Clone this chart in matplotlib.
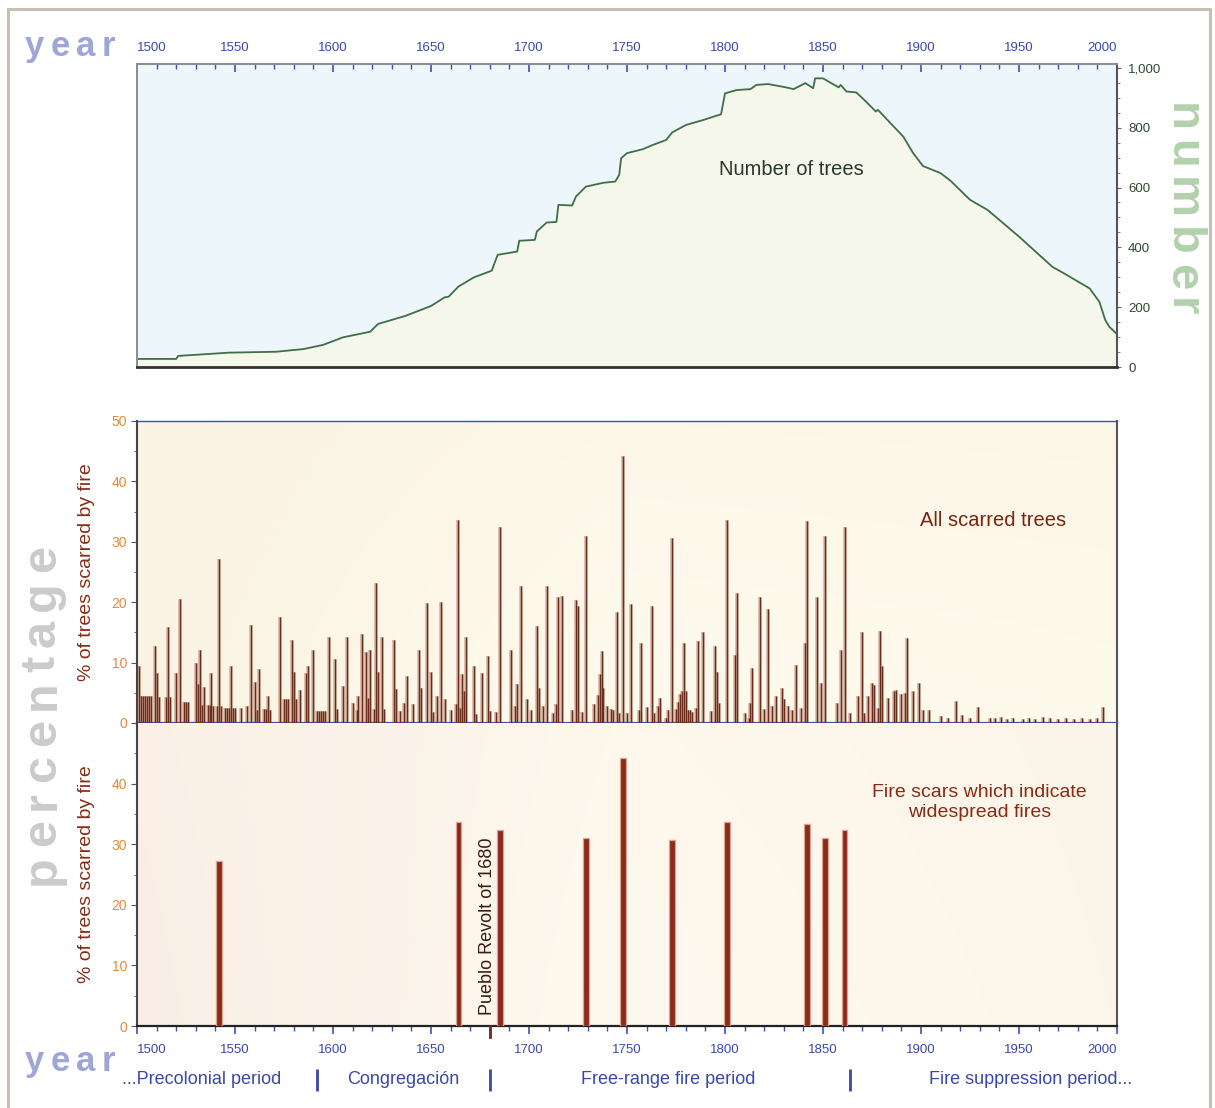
import numpy as np
import matplotlib
matplotlib.use('Agg')
import matplotlib.pyplot as plt
from matplotlib.ticker import MultipleLocator
import matplotlib.transforms as mtransforms
from matplotlib.patches import Rectangle
from matplotlib.colors import to_rgb

plt.rcParams['font.family'] = ['Liberation Sans', 'DejaVu Sans']

# ---------------- data ----------------
tree_years = [1500, 1520, 1521, 1547, 1571, 1585, 1595, 1605, 1619, 1623, 1637, 1650, 1657, 1659,
              1664, 1672, 1681, 1684, 1694, 1695, 1703, 1704, 1709, 1714, 1715, 1722, 1724, 1729,
              1738, 1744, 1746, 1747, 1750, 1758, 1763, 1770, 1773, 1780, 1789, 1798, 1800, 1806,
              1813, 1816, 1822, 1831, 1835, 1841, 1845, 1846, 1850, 1855, 1858, 1859, 1862, 1867,
              1871, 1877, 1878, 1882, 1891, 1896, 1901, 1910, 1915, 1925, 1934, 1950, 1967, 1973,
              1981, 1986, 1991, 1994, 1996, 2000]
tree_count = [27, 27, 37, 48, 51, 60, 74, 99, 118, 144, 171, 204, 233, 235,
              269, 300, 322, 375, 386, 422, 425, 453, 483, 485, 542, 540, 570, 603,
              616, 620, 642, 698, 715, 728, 742, 759, 784, 809, 826, 845, 915, 926,
              929, 943, 946, 935, 929, 949, 932, 965, 965, 946, 935, 943, 921, 918,
              893, 854, 860, 832, 770, 715, 672, 648, 623, 559, 525, 436, 335, 313,
              282, 263, 218, 157, 135, 110]

scar_years = [1501, 1502, 1503, 1504, 1505, 1506, 1507, 1509, 1510, 1511, 1515, 1516, 1517, 1520,
              1522, 1524, 1525, 1526, 1530, 1531, 1532, 1533, 1534, 1536, 1537, 1538, 1539, 1541,
              1542, 1543, 1545, 1546, 1547, 1548, 1549, 1550, 1553, 1556, 1558, 1560, 1561, 1562,
              1565, 1566, 1567, 1568, 1573, 1575, 1576, 1577, 1579, 1580, 1581, 1583, 1586, 1587,
              1590, 1592, 1593, 1594, 1595, 1596, 1598, 1601, 1602, 1605, 1607, 1610, 1612, 1613,
              1615, 1617, 1618, 1619, 1621, 1622, 1623, 1625, 1626, 1631, 1632, 1634, 1636, 1638,
              1641, 1644, 1645, 1648, 1650, 1651, 1653, 1655, 1657, 1660, 1663, 1664, 1665, 1666,
              1667, 1668, 1672, 1673, 1676, 1679, 1680, 1683, 1685, 1691, 1693, 1694, 1696, 1699,
              1701, 1704, 1705, 1707, 1709, 1712, 1714, 1715, 1717, 1722, 1724, 1725, 1727, 1729,
              1733, 1735, 1736, 1737, 1738, 1740, 1742, 1743, 1745, 1746, 1748, 1750, 1752, 1756,
              1757, 1760, 1763, 1764, 1766, 1767, 1770, 1771, 1773, 1775, 1776, 1777, 1778, 1779,
              1780, 1781, 1782, 1783, 1785, 1786, 1789, 1793, 1795, 1796, 1797, 1801, 1805, 1806,
              1810, 1812, 1813, 1814, 1818, 1820, 1822, 1824, 1826, 1829, 1830, 1832, 1834, 1836,
              1839, 1841, 1842, 1847, 1849, 1851, 1857, 1859, 1861, 1864, 1868, 1870, 1871, 1873,
              1875, 1876, 1878, 1879, 1880, 1883, 1886, 1887, 1890, 1892, 1893, 1896, 1899, 1901,
              1904, 1910, 1914, 1918, 1921, 1925, 1929, 1935, 1938, 1941, 1944, 1947, 1952, 1955,
              1958, 1962, 1966, 1970, 1974, 1978, 1982, 1986, 1990, 1993]
scar_pct = [9.4, 4.4, 4.4, 4.4, 4.4, 4.4, 4.4, 12.8, 8.2, 4.3, 4.3, 15.9, 4.3, 8.2,
            20.5, 3.5, 3.5, 3.5, 9.9, 6.5, 12.1, 3.0, 6.0, 3.0, 3.0, 8.3, 2.8, 2.8,
            27.2, 2.8, 2.5, 2.5, 2.5, 9.5, 2.5, 2.5, 2.5, 2.8, 16.3, 6.8, 2.1, 8.9,
            2.4, 2.4, 4.5, 2.2, 17.6, 4.0, 4.0, 4.0, 13.7, 8.5, 3.9, 5.5, 8.2, 9.5,
            12.1, 2.0, 2.0, 2.0, 2.0, 2.0, 14.3, 10.6, 2.4, 6.1, 14.3, 3.3, 2.2, 4.5,
            14.7, 11.7, 4.1, 12.1, 2.3, 23.2, 8.5, 14.3, 2.3, 13.8, 5.6, 2.0, 3.3, 7.8,
            3.2, 12.1, 5.8, 19.8, 8.5, 1.9, 4.4, 20.0, 4.0, 2.2, 3.1, 33.6, 2.5, 8.1,
            5.3, 14.3, 9.4, 1.5, 8.3, 11.1, 2.0, 1.8, 32.4, 12.1, 2.8, 6.5, 22.7, 3.9,
            2.2, 16.0, 5.8, 2.8, 22.7, 1.7, 3.2, 20.9, 21.1, 2.2, 20.3, 19.3, 1.8, 31.0,
            3.1, 4.6, 8.1, 12.0, 5.8, 2.8, 2.4, 2.2, 18.4, 1.7, 44.2, 1.7, 19.7, 2.2,
            13.2, 2.6, 19.4, 1.7, 2.8, 4.2, 0.9, 2.2, 30.7, 2.4, 3.4, 4.8, 5.3, 13.2,
            5.3, 2.1, 2.1, 1.9, 2.5, 13.5, 15.1, 2.0, 12.8, 8.5, 3.3, 33.6, 11.2, 21.5,
            1.7, 0.9, 3.3, 9.1, 20.8, 2.4, 18.8, 2.8, 4.5, 5.8, 3.9, 2.8, 2.2, 9.6,
            2.5, 13.3, 33.4, 20.8, 6.6, 31.0, 3.3, 12.1, 32.4, 1.7, 4.5, 15.1, 1.7, 4.5,
            6.6, 6.3, 2.5, 15.3, 9.5, 4.1, 5.3, 5.4, 4.8, 4.9, 14.0, 5.3, 6.6, 2.1,
            2.1, 1.2, 0.8, 3.6, 1.3, 0.9, 2.7, 0.9, 0.8, 1.0, 0.7, 0.9, 0.6, 0.8,
            0.7, 1.0, 0.8, 0.7, 0.9, 0.6, 0.8, 0.7, 0.9, 2.7]

wide_years = [1542, 1664, 1685, 1729, 1748, 1773, 1801, 1842, 1851, 1861]
wide_pct = [27.2, 33.6, 32.4, 31.0, 44.2, 30.7, 33.6, 33.4, 31.0, 32.4]

year_ticks = list(range(1500, 2001, 50))
year_labels = [str(y) for y in year_ticks]
tree_ticks = [0, 200, 400, 600, 800, 1000]
tree_labels = ['0', '200', '400', '600', '800', '1,000']
pct_ticks_mid = [0, 10, 20, 30, 40, 50]
pct_ticks_bot = [0, 10, 20, 30, 40]

periods = ['...Precolonial period', 'Congregación', 'Free-range fire period', 'Fire suppression period...']
period_centers = [1533, 1636, 1771, 1956]
period_bounds = [1592, 1680, 1864]

# ---------------- figure ----------------
W, H = 1215, 1108
fig = plt.figure(figsize=(W / 100, H / 100), dpi=100)
fig.patch.set_facecolor('white')

BLUE = '#3a48aa'
TICKBLUE = '#3d4fb8'
ORANGE = '#e3893c'
BROWN = '#862d14'


def ax_rect(x0, y0, x1, y1):
    return [x0 / W, 1 - y1 / H, (x1 - x0) / W, (y1 - y0) / H]


ax_top = fig.add_axes(ax_rect(137, 64, 1117, 367))
ax_mid = fig.add_axes(ax_rect(137, 421, 1117, 723))
ax_bot = fig.add_axes(ax_rect(137, 723, 1117, 1026))


def gradient(ax, c_left, c_mid, c_right, c_bottom_tint, strength=0.5):
    n = 200
    t = np.linspace(0, 1, n)
    cl, cm, cr = [np.array(to_rgb(c)) for c in (c_left, c_mid, c_right)]
    row = np.where(t[:, None] < 0.5,
                   cl[None, :] * (1 - 2 * t[:, None]) + cm[None, :] * 2 * t[:, None],
                   cm[None, :] * (2 - 2 * t[:, None]) + cr[None, :] * (2 * t[:, None] - 1))
    tb = np.array(to_rgb(c_bottom_tint))
    v = np.linspace(1, 0, n)[:, None, None] * strength  # top->bottom weight
    img = row[None, :, :] * (1 - v) + tb[None, None, :] * v
    ax.imshow(img, extent=[0, 1, 0, 1], transform=ax.transAxes, aspect='auto',
              zorder=0, interpolation='bilinear')


# ---------------- top panel ----------------
ax_top.set_facecolor('#edf6fb')
ax_top.fill_between(tree_years, tree_count, 0, color='#f6f7eb', zorder=1)
ax_top.plot(tree_years, tree_count, color='#3f6e48', lw=1.3, zorder=2)
ax_top.set_xlim(1500, 2000)
ax_top.set_ylim(0, 1013)
ax_top.xaxis.tick_top()
ax_top.set_xticks(year_ticks, year_labels)
ax_top.xaxis.set_minor_locator(MultipleLocator(10))
ax_top.tick_params(axis='x', which='both', direction='in', colors=TICKBLUE,
                   labelcolor=BLUE, labelsize=9.5, pad=7)
ax_top.tick_params(axis='x', which='major', length=6, width=1.2)
ax_top.tick_params(axis='x', which='minor', length=3.5, width=1)
ax_top.yaxis.tick_right()
ax_top.set_yticks(tree_ticks, tree_labels)
ax_top.yaxis.set_minor_locator(MultipleLocator(50))
ax_top.tick_params(axis='y', which='both', direction='out', colors='#666666',
                   labelcolor='#2d4a30', labelsize=9.5, pad=5)
ax_top.tick_params(axis='y', which='major', length=3)
ax_top.tick_params(axis='y', which='minor', length=2)
ax_top.spines['top'].set_color('#8c8c8c')
ax_top.spines['top'].set_linewidth(1.4)
ax_top.spines['left'].set_color('#8c8c8c')
ax_top.spines['left'].set_linewidth(1.4)
ax_top.spines['bottom'].set_color('#333333')
ax_top.spines['bottom'].set_linewidth(2)
ax_top.spines['right'].set_color('#555555')
ax_top.spines['right'].set_linewidth(1.5)
lbls = ax_top.get_xticklabels()
lbls[0].set_horizontalalignment('left')
lbls[-1].set_horizontalalignment('right')
ax_top.text(1834, 659, 'Number of trees', fontsize=14.5, color='#253a2c',
            ha='center', va='center', zorder=3)

# ---------------- middle panel ----------------
gradient(ax_mid, '#fbf4e4', '#fefbee', '#fefaec', '#fbf3e4', 0.5)
ax_mid.vlines(scar_years, 0, scar_pct, color='#c99f8c', lw=2.6, alpha=0.75, zorder=2)
ax_mid.vlines(scar_years, 0, scar_pct, color='#6a2c1c', lw=1.0, zorder=3)
ax_mid.set_xlim(1500, 2000)
ax_mid.set_ylim(0, 50)
ax_mid.set_xticks(year_ticks)
ax_mid.xaxis.set_minor_locator(MultipleLocator(10))
ax_mid.tick_params(axis='x', which='both', direction='out', colors=TICKBLUE,
                   labelbottom=False)
ax_mid.tick_params(axis='x', which='major', length=5, width=1.2)
ax_mid.tick_params(axis='x', which='minor', length=3, width=1)
ax_mid.set_yticks(pct_ticks_mid)
ax_mid.yaxis.set_minor_locator(MultipleLocator(5))
ax_mid.tick_params(axis='y', which='both', direction='out', colors='#555555',
                   labelcolor=ORANGE, labelsize=10, pad=3)
ax_mid.tick_params(axis='y', which='major', length=4)
ax_mid.tick_params(axis='y', which='minor', length=2.5)
ax_mid.spines['top'].set_color(TICKBLUE)
ax_mid.spines['top'].set_linewidth(1.0)
ax_mid.spines['bottom'].set_color(TICKBLUE)
ax_mid.spines['bottom'].set_linewidth(1.6)
ax_mid.spines['left'].set_color('#444444')
ax_mid.spines['left'].set_linewidth(1.5)
ax_mid.spines['right'].set_color('#555555')
ax_mid.spines['right'].set_linewidth(1.5)
ax_mid.set_ylabel('% of trees scarred by fire', fontsize=14, color=BROWN)
ax_mid.yaxis.set_label_coords(-0.043, 0.5)
ax_mid.text(1937, 33.6, 'All scarred trees', fontsize=14.5, color='#7a2410',
            ha='center', va='center', zorder=4)

# ---------------- bottom panel ----------------
gradient(ax_bot, '#f9eee5', '#fef9ee', '#fcf6ea', '#fbf3e8', 0.3)
ax_bot.bar(wide_years, wide_pct, width=3.0, color='#8b2a1a', edgecolor='#d8a492',
           linewidth=0.9, zorder=3)
ax_bot.set_xlim(1500, 2000)
ax_bot.set_ylim(0, 50)
ax_bot.set_xticks(year_ticks, year_labels)
ax_bot.xaxis.set_minor_locator(MultipleLocator(10))
ax_bot.tick_params(axis='x', which='both', direction='out', colors=TICKBLUE,
                   labelcolor=BLUE, labelsize=9.5, pad=7)
ax_bot.tick_params(axis='x', which='major', length=6, width=1.2)
ax_bot.tick_params(axis='x', which='minor', length=3.5, width=1)
blbls = ax_bot.get_xticklabels()
blbls[0].set_horizontalalignment('left')
blbls[-1].set_horizontalalignment('right')
ax_bot.set_yticks(pct_ticks_bot)
ax_bot.yaxis.set_minor_locator(MultipleLocator(5))
ax_bot.tick_params(axis='y', which='both', direction='out', colors='#555555',
                   labelcolor=ORANGE, labelsize=10, pad=3)
ax_bot.tick_params(axis='y', which='major', length=4)
ax_bot.tick_params(axis='y', which='minor', length=2.5)
ax_bot.spines['top'].set_visible(False)
ax_bot.spines['bottom'].set_color('#222222')
ax_bot.spines['bottom'].set_linewidth(1.6)
ax_bot.spines['left'].set_color('#444444')
ax_bot.spines['left'].set_linewidth(1.5)
ax_bot.spines['right'].set_color('#555555')
ax_bot.spines['right'].set_linewidth(1.5)
ax_bot.set_ylabel('% of trees scarred by fire', fontsize=14, color=BROWN)
ax_bot.yaxis.set_label_coords(-0.043, 0.5)
ax_bot.text(1930, 36.9, 'Fire scars which indicate\nwidespread fires', fontsize=14,
            color='#8a2a12', ha='center', va='center', linespacing=1.25, zorder=4)
ax_bot.text(1678.6, 1.8, 'Pueblo Revolt of 1680', rotation=90, fontsize=13,
            color='#3b1a10', ha='center', va='bottom', zorder=4)

tb = mtransforms.blended_transform_factory(ax_bot.transData, ax_bot.transAxes)
ax_bot.plot([1680, 1680], [0, -0.035], transform=tb, color='#6e2a1a', lw=2,
            clip_on=False, zorder=5)
for name, c in zip(periods, period_centers):
    ax_bot.text(c, -0.178, name, transform=tb, fontsize=13, color=BLUE,
                ha='center', va='center')
for b in period_bounds:
    ax_bot.plot([b, b], [-0.142, -0.213], transform=tb, color=BLUE, lw=2,
                clip_on=False, solid_capstyle='butt')

# ---------------- decorative spaced labels ----------------
renderer = fig.canvas.get_renderer()


def spaced(s, cx, cy, angle, size, color, gap):
    ws = []
    for ch in s:
        t = fig.text(0, 0, ch, fontsize=size, fontweight='bold')
        ws.append(t.get_window_extent(renderer=renderer).width)
        t.remove()
    total = sum(ws) + gap * (len(s) - 1)
    xh = 0.52 * size * 100 / 72
    X, Y = cx, H - cy
    if angle == 0:
        d, up = (1, 0), (0, 1)
    elif angle == 90:
        d, up = (0, 1), (-1, 0)
    else:
        d, up = (0, -1), (1, 0)
    off = -total / 2
    for ch, w in zip(s, ws):
        c = off + w / 2
        bx = X + d[0] * c - up[0] * xh / 2
        by = Y + d[1] * c - up[1] * xh / 2
        fig.text(bx / W, by / H, ch, fontsize=size, fontweight='bold', color=color,
                 rotation=angle, rotation_mode='anchor', ha='center', va='baseline')
        off += w + gap


spaced('year', 70, 47, 0, 25, '#9ea6d8', 6)
spaced('year', 70, 1062, 0, 25, '#9ea6d8', 6)
spaced('number', 1182, 210, -90, 34, '#b4d1ad', 8)
spaced('percentage', 42, 715, 90, 35, '#cbcbcb', 9)

# frame
fig.patches.append(Rectangle((8 / W, -0.05), (1210 - 8) / W, 1 - 9 / H + 0.05, fill=False,
                             ec='#c8bfb3', lw=2.2, transform=fig.transFigure))

fig.savefig('out.png', dpi=100)
